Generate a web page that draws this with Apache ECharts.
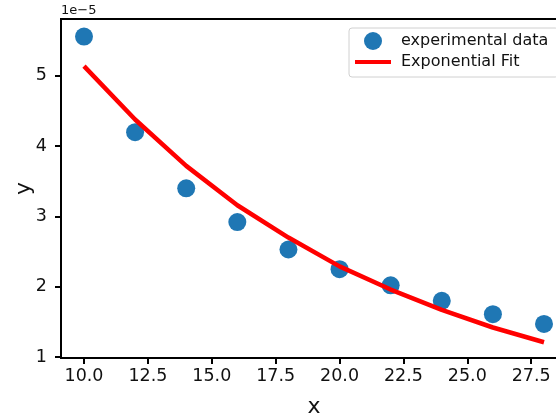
<!DOCTYPE html>
<html>
<head>
<meta charset="utf-8">
<script src="https://cdn.jsdelivr.net/npm/echarts@6/dist/echarts.min.js"></script>
<style>html,body{margin:0;padding:0;background:#fff;}#c{width:556px;height:417px;}</style>
</head>
<body>
<div id="c"></div>
<script>
// values in units of 1e-5
const xValues = [10, 12, 14, 16, 18, 20, 22, 24, 26, 28];
const experimental = [5.56, 4.20, 3.40, 2.92, 2.53, 2.25, 2.02, 1.80, 1.61, 1.47];
const expFit = [5.14, 4.38, 3.72, 3.16, 2.70, 2.29, 1.96, 1.67, 1.42, 1.21];
const xTicks = [10, 12.5, 15, 17.5, 20, 22.5, 25, 27.5];
const yTicks = [1, 2, 3, 4, 5];
const offsetText = '1e\u22125';

const FONT = 'DejaVu Sans';
const chart = echarts.init(document.getElementById('c'), null, {renderer: 'canvas'});
chart.setOption({
  animation: false,
  backgroundColor: '#fff',
  textStyle: {fontFamily: FONT},
  grid: {left: 61, top: 19, right: -11, bottom: 59, show: true, borderColor: '#000', borderWidth: 2, outerBoundsMode: 'none', containLabel: false},
  title: {text: offsetText, left: 61, top: 4, padding: 0, textStyle: {fontFamily: FONT, fontSize: 13, fontWeight: 'normal', color: '#111'}},
  legend: {
    orient: 'vertical', left: 349, top: 28,
    padding: [4, 10, 7, 6], itemGap: 4, itemWidth: 36, itemHeight: 18,
    borderColor: '#d0d0d0', borderWidth: 1, borderRadius: 3, backgroundColor: 'rgba(255,255,255,0.8)',
    textStyle: {fontFamily: FONT, fontSize: 16, color: '#111', padding: [0, 0, 0, 5]},
    data: [
      {name: 'experimental data', icon: 'circle'},
      {name: 'Exponential Fit', icon: 'path://M0,0 L36,0 L36,4 L0,4 Z', itemStyle: {color: '#ff0000', borderWidth: 0}}
    ]
  },
  xAxis: {
    type: 'value', min: 9.1, max: 28.9,
    name: 'x', nameLocation: 'middle', nameGap: 38, nameMoveOverlap: false,
    nameTextStyle: {fontFamily: FONT, fontSize: 22, color: '#111'},
    axisLine: {lineStyle: {color: '#000', width: 2}},
    axisTick: {show: true, length: 6, lineStyle: {color: '#000', width: 2}, customValues: xTicks},
    axisLabel: {customValues: xTicks, margin: 9, fontFamily: FONT, fontSize: 17.5, color: '#111', formatter: v => v.toFixed(1)},
    splitLine: {show: false}
  },
  yAxis: {
    type: 'value', min: 0.986, max: 5.81,
    name: 'y', nameLocation: 'middle', nameGap: 26, nameMoveOverlap: false,
    nameTextStyle: {fontFamily: FONT, fontSize: 22, color: '#111'},
    axisLine: {show: true, lineStyle: {color: '#000', width: 2}},
    axisTick: {show: true, length: 6, lineStyle: {color: '#000', width: 2}, customValues: yTicks},
    axisLabel: {customValues: yTicks, margin: 14, fontFamily: FONT, fontSize: 17.5, color: '#111', formatter: v => String(Math.round(v))},
    splitLine: {show: false}
  },
  series: [
    {name: 'experimental data', type: 'scatter', symbolSize: 18, itemStyle: {color: '#1f77b4', opacity: 1}, z: 2,
     data: xValues.map((x, i) => [x, experimental[i]])},
    {name: 'Exponential Fit', type: 'line', symbol: 'none', showSymbol: false, z: 3,
     lineStyle: {color: '#ff0000', width: 4.5}, itemStyle: {color: '#ff0000'},
     data: xValues.map((x, i) => [x, expFit[i]])}
  ]
});
</script>
</body>
</html>
